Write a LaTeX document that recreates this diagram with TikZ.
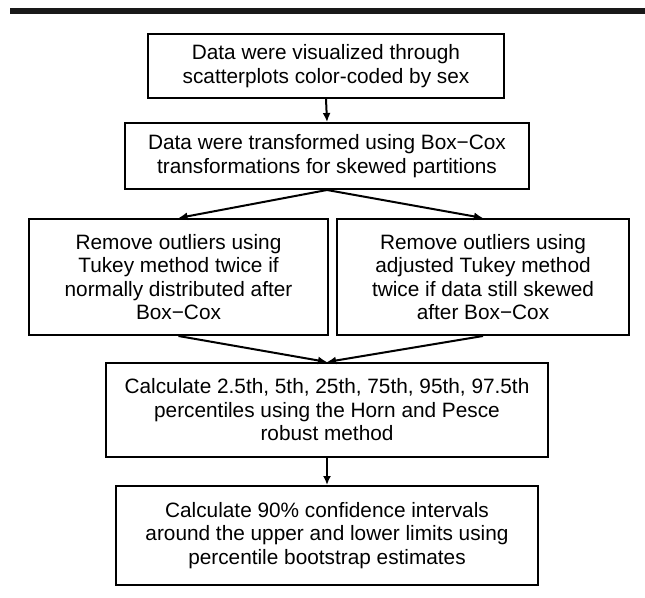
\documentclass[tikz,border=0pt]{standalone}
\usepackage{fontspec}
\setmainfont{Liberation Sans}
\usetikzlibrary{arrows.meta}
\begin{document}
\begin{tikzpicture}[x=1pt,y=-1pt,
  flowbox/.style={draw=black,line width=2pt,align=center,inner sep=0pt,
    font=\fontsize{20.8pt}{23.5pt}\selectfont},
  arr/.style={line width=2pt,-{Latex[length=9pt,width=8pt]}}]
\useasboundingbox (0,0) rectangle (645,597);
\fill[black!90] (10,8) rectangle (645,14);
\node[flowbox,minimum width=356pt,minimum height=64pt] (b1) at (326,66)
  {Data were visualized through\\scatterplots color-coded by sex};
\node[flowbox,minimum width=404pt,minimum height=66pt] (b2) at (327,156)
  {Data were transformed using Box−Cox\\transformations for skewed partitions};
\node[flowbox,minimum width=299pt,minimum height=116pt] (b3) at (178.5,277)
  {Remove outliers using\\Tukey method twice if\\normally distributed after\\Box−Cox};
\node[flowbox,minimum width=292pt,minimum height=116pt] (b4) at (483,277)
  {Remove outliers using\\adjusted Tukey method\\twice if data still skewed\\after Box−Cox};
\node[flowbox,minimum width=442pt,minimum height=94pt] (b5) at (327,410)
  {Calculate 2.5th, 5th, 25th, 75th, 95th, 97.5th\\percentiles using the Horn and Pesce\\robust method};
\node[flowbox,minimum width=422pt,minimum height=99pt] (b6) at (327,535.5)
  {Calculate 90\% confidence intervals\\around the upper and lower limits using\\percentile bootstrap estimates};
\draw[arr] (b1.south) -- (b2.north);
\draw[arr] (b2.south) -- (b3.north);
\draw[arr] (b2.south) -- (b4.north);
\draw[arr] (b3.south) -- (b5.north);
\draw[arr] (b4.south) -- (b5.north);
\draw[arr] (b5.south) -- (b6.north);
\end{tikzpicture}
\end{document}
